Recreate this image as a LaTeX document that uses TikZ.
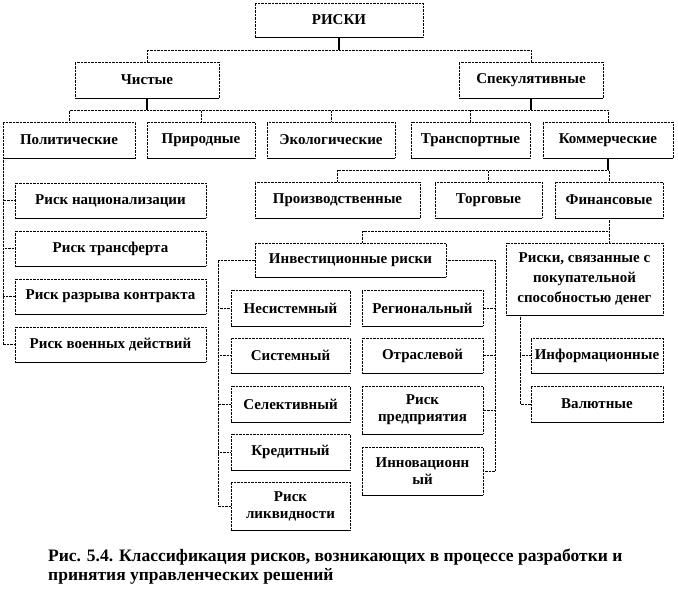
\documentclass[tikz,border=0pt]{standalone}
\usepackage{fontspec}
\setmainfont{Liberation Serif}
\begin{document}
\begin{tikzpicture}[
    x=1pt, y=-1pt,
    every node/.style={font=\bfseries\fontsize{15}{17}\selectfont},
    box/.style={draw, densely dotted, inner sep=2pt, align=center, minimum width=#1, minimum height=36pt},
    link/.style={densely dotted},
    trunk/.style={line width=1.2pt}
]
\useasboundingbox (0,0) rectangle (678,615);

\node[box=168pt, minimum height=34pt] (riski) at (339,20) {РИСКИ};
\node[box=144pt] (chist) at (147,80) {Чистые};
\node[box=144pt] (spek) at (531,80) {Спекулятивные};

\node[box=132pt] (polit) at (69,140) {Политические};
\node[box=108pt] (prirod) at (201,140) {Природные};
\node[box=128pt] (ekol) at (331,140) {Экологические};
\node[box=119pt] (transp) at (470.5,140) {Транспортные};
\node[box=130pt] (komm) at (608,140) {Коммерческие};

\node[box=191pt, minimum height=35pt] (nac) at (110.5,200.5) {Риск национализации};
\node[box=191pt, minimum height=35pt] (transf) at (110.5,248.5) {Риск трансферта};
\node[box=191pt, minimum height=35pt] (razr) at (110.5,296.5) {Риск разрыва контракта};
\node[box=191pt, minimum height=35pt] (voen) at (110.5,344.5) {Риск военных действий};

\node[box=165pt] (proizv) at (337.5,200) {Производственные};
\node[box=107pt] (torg) at (488.5,200) {Торговые};
\node[box=108pt] (fin) at (609,200) {Финансовые};

\node[box=191pt, minimum height=34pt] (invest) at (350.5,260) {Инвестиционные риски};
\node[box=157pt, minimum height=72pt, font=\bfseries\fontsize{15}{20}\selectfont] (pokup) at (584.5,279)
    {Риски, связанные с\\покупательной\\способностью денег};

\node[box=119pt] (nesist) at (290.5,308) {Несистемный};
\node[box=119pt, minimum height=35pt] (sist) at (290.5,355.5) {Системный};
\node[box=119pt] (selekt) at (290.5,404) {Селективный};
\node[box=119pt] (kredit) at (290.5,452) {Кредитный};
\node[box=119pt, minimum height=48pt] (likvid) at (290.5,506) {Риск\\ликвидности};

\node[box=121pt] (region) at (422.5,308) {Региональный};
\node[box=121pt, minimum height=35pt] (otrasl) at (422.5,355.5) {Отраслевой};
\node[box=121pt, minimum height=48pt] (predpr) at (422.5,410) {Риск\\предприятия};
\node[box=121pt, minimum height=48pt] (innov) at (422.5,471) {Инновационн\\ый};

\node[box=132pt, minimum height=35pt] (inform) at (597,355.5) {Информационные};
\node[box=132pt] (valut) at (597,404) {Валютные};

% solid lower edges
\foreach \n in {riski,chist,spek,polit,prirod,ekol,transp,komm,nac,transf,razr,voen,
    proizv,torg,fin,invest,pokup,nesist,sist,selekt,kredit,likvid,region,otrasl,predpr,innov,inform,valut}
    \draw (\n.south west) -- (\n.south east);

\draw[trunk] (riski.south) -- ++(0,13) coordinate (r1);
\draw[link] (r1) -| (chist.north);
\draw[link] (r1) -| (spek.north);

\draw[trunk] (chist.south) -- ++(0,12) coordinate (c1);
\foreach \n in {polit,prirod,ekol}
    \draw[link] (c1) -| (\n.north);
\draw[trunk] (spek.south) -- ++(0,12) coordinate (s1);
\draw[link] (s1) -- (s1 -| ekol.north);
\foreach \n in {transp,komm}
    \draw[link] (s1) -| (\n.north);

\foreach \n in {nac,transf,razr,voen}
    \draw[link] (polit.south west) |- (\n.west);

\draw[trunk] (komm.south) -- ++(0,12) coordinate (k1);
\foreach \n in {proizv,torg,fin}
    \draw[link] (k1) -| (\n.north);

\draw[link] (fin.south) -- (fin.south |- pokup.north);
\draw[link] ([yshift=-13pt]fin.south) -| ([xshift=12pt]invest.north);

\foreach \n in {nesist,sist,selekt,kredit,likvid}
    \draw[link] (invest.west) -- ++(-37,0) |- (\n.west);
\foreach \n in {region,otrasl,predpr,innov}
    \draw[link] (invest.east) -- ++(49,0) |- (\n.east);
\foreach \n in {inform,valut}
    \draw[link] ([xshift=14pt]pokup.south west) |- (\n.west);

\node[anchor=north west, align=left, inner sep=0pt, font=\bfseries\fontsize{17.5}{19}\selectfont] (caption) at (48,549)
    {Рис. 5.4. Классификация рисков, возникающих в процессе разработки и\\принятия управленческих решений};
\end{tikzpicture}
\end{document}
